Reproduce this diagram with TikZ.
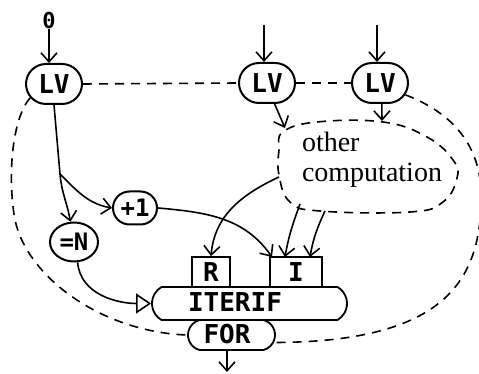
\documentclass[tikz,border=0pt]{standalone}
\usepackage{fontspec}
\setmainfont{Liberation Serif}
\setmonofont{DejaVu Sans Mono}
\usetikzlibrary{arrows.meta,shapes.misc,shapes.geometric}
\begin{document}
\begin{tikzpicture}[x=1pt,y=1pt,
  line width=1.6pt,
  barb/.style={-{Straight Barb[length=9pt,width=16pt,line width=1.6pt]}},
  opentri/.style={-{Triangle[open,length=15pt,width=20pt,line width=1.6pt]}},
  dsh/.style={dash pattern=on 9pt off 7pt},
  mono/.style={font=\fontsize{26}{26}\selectfont\ttfamily\bfseries, inner sep=0pt},
  monosm/.style={font=\fontsize{24}{24}\selectfont\ttfamily\bfseries, inner sep=0pt},
  lvnode/.style={draw, line width=2pt, rounded rectangle, rounded rectangle arc length=180, minimum width=56pt, minimum height=40pt, mono},
  opnode/.style={draw, line width=2pt, rounded rectangle, rounded rectangle arc length=180, minimum width=44pt, minimum height=33pt, monosm},
  eqnode/.style={draw, line width=2pt, ellipse, minimum width=48pt, minimum height=39pt, monosm},
  sqbox/.style={draw, line width=1.8pt, rectangle, minimum height=30pt, mono},
  pillbox/.style={draw, line width=1.8pt, rounded rectangle, inner sep=0pt},
  cloudtext/.style={font=\fontsize{28}{30}\selectfont, align=left, inner sep=0pt}
]
\useasboundingbox (0,0) rectangle (479,374);

% nodes
\node[font=\fontsize{22}{22}\selectfont\ttfamily\bfseries, inner sep=0pt] (zero) at (49,354) {0};
\node[lvnode] (lv1) at (54,290) {LV};
\node[lvnode] (lv2) at (267,291) {LV};
\node[lvnode] (lv3) at (380,291) {LV};
\node[opnode] (plus1) at (135,166) {+1};
\node[eqnode] (eqn) at (74,132) {=N};
\node[sqbox, minimum width=38pt] (rbox) at (211,102) {R};
\node[sqbox, minimum width=52pt] (ibox) at (296,102) {I};
\node[pillbox, rounded rectangle arc length=120, minimum width=195pt, minimum height=33pt] (iterif) at (249.5,70.5) {};
\node[mono] (iterlbl) at (235,71.5) {ITERIF};
\node[pillbox, rounded rectangle arc length=150, minimum width=87pt, minimum height=30pt] (forb) at (231.5,39) {};
\node[mono] (forlbl) at (227,39.5) {FOR};

% other computation cloud
\draw[dsh] plot[smooth cycle, tension=0.7] coordinates {(283,242) (317,252) (383,252) (427,237) (453,214) (457,196) (443,172) (410,162) (320,163) (290,172) (279,199) (279,224)};
\node[cloudtext] (comp) at (372,214) {other\\computation};

% coordinates
\coordinate (in2) at (264,349);
\coordinate (in3) at (377,349);
\coordinate (c2in) at (285,246);
\coordinate (c3in) at (382,253);
\coordinate (cR) at (279,197);
\coordinate (cI1) at (300,170);
\coordinate (cI2) at (325,163);
\coordinate (ia) at (272,117);
\coordinate (ib) at (285,117);
\coordinate (ic) at (310,117);
\coordinate (branch) at (60,200);
\coordinate (outc) at (227,2);

% solid connectors
\draw[barb] (zero.south) -- (zero.south |- lv1.north);
\draw[barb] (in2) -- (in2 |- lv2.north);
\draw[barb] (in3) -- (in3 |- lv3.north);
\draw[barb] (lv2.-70) -- (c2in);
\draw[barb] (lv3.-85) -- (c3in);
\draw (lv1.south) -- (branch);
\draw[barb] (branch) to[out=-85,in=100] (eqn.100);
\draw[barb] (branch) to[out=-45,in=170] (plus1.west);
\draw[barb] (plus1.east) to[out=-5,in=125] (ia);
\draw[barb] (cR) to[out=205,in=85] (rbox.north);
\draw[barb] (cI1) to[out=-110,in=80] (ib);
\draw[barb] (cI2) to[out=-115,in=80] (ic);
\draw[opentri] (eqn.-80) to[out=-85,in=180] (iterif.west);
\draw[barb] (outc |- forb.south) -- (outc);

% dashed connectors
\draw[dsh] (lv1.east) -- (lv2.west);
\draw[dsh] (lv2.east) -- (lv3.west);
\draw[dsh] (lv1.-150) .. controls (12,255) and (8,200) .. (14,160) .. controls (22,100) and (100,42) .. (forb.west);
\draw[dsh] (lv3.-25) .. controls (450,262) and (484,230) .. (481,170) .. controls (479,90) and (440,32) .. (forb.-10);
\end{tikzpicture}
\end{document}
